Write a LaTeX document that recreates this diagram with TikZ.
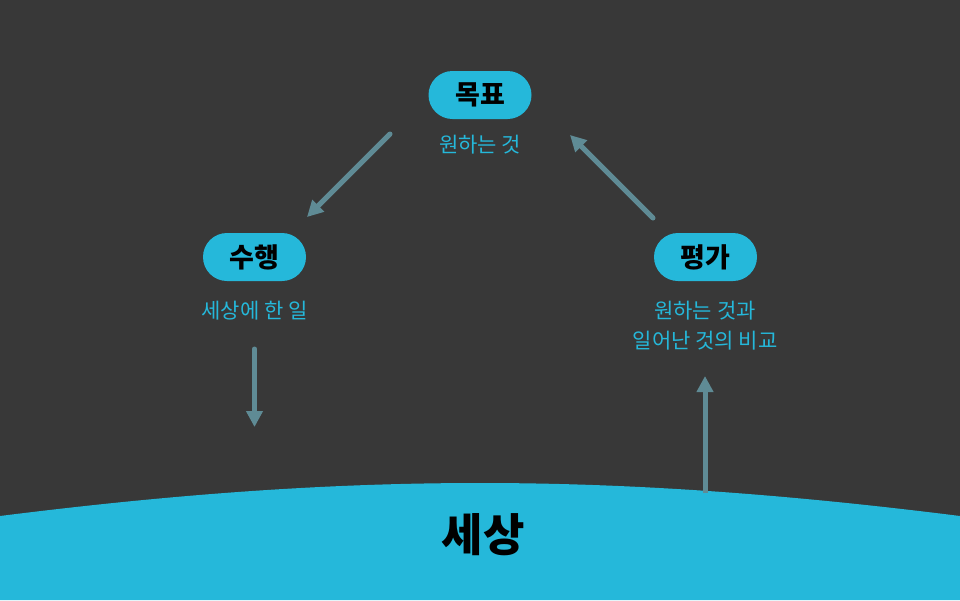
\documentclass[tikz,border=0pt]{standalone}
\usepackage{fontspec}
\newfontfamily\kr{Noto Sans CJK KR}
\usetikzlibrary{arrows.meta}
\definecolor{bg}{HTML}{383838}
\definecolor{cy}{HTML}{25B8DA}
\definecolor{arr}{HTML}{5F8B95}
\tikzset{
  pill/.style={fill=cy, rounded corners=24pt, minimum width=103pt, minimum height=48pt, inner sep=0pt, text=black, font=\kr\bfseries\fontsize{27}{30}\selectfont},
  desc/.style={text=cy, font=\kr\fontsize{21}{30}\selectfont, align=center, inner sep=0pt},
  conn/.style={draw=arr, line width=5pt, line cap=round, -{Triangle[length=16pt,width=16pt]}},
}
\begin{document}
\begin{tikzpicture}[x=1pt,y=-1pt]
\fill[bg] (0,0) rectangle (960,600);
\useasboundingbox (0,0) rectangle (960,600);
\fill[cy] (0,516) .. controls (350,472) and (610,472) .. (960,516) -- (960,600) -- (0,600) -- cycle;
\node[pill] (goal) at (480,95) {목표};
\node[desc] (goald) at (480,145) {원하는 것};
\node[pill] (act) at (254.5,257) {수행};
\node[desc] (actd) at (254.5,311) {세상에 한 일};
\node[pill] (eval) at (705.5,257) {평가};
\node[desc] (evald) at (705,326) {원하는 것과\\일어난 것의 비교};
\node[text=black, font=\kr\bfseries\fontsize{45}{50}\selectfont, inner sep=0pt] (world) at (483,535) {세상};
\coordinate (a1s) at (390,134);
\coordinate (a1e) at (307,217);
\coordinate (a2s) at (653,218);
\coordinate (a2e) at (570,135);
\coordinate (a3s) at (254.5,349);
\coordinate (a3e) at (254.5,427);
\coordinate (a4s) at (705,493);
\coordinate (a4e) at (705,376);
\draw[conn] (a1s) -- (a1e);
\draw[conn] (a2s) -- (a2e);
\draw[conn] (a3s) -- (a3e);
\draw[conn, line cap=butt] (a4s) -- (a4e);
\end{tikzpicture}
\end{document}
